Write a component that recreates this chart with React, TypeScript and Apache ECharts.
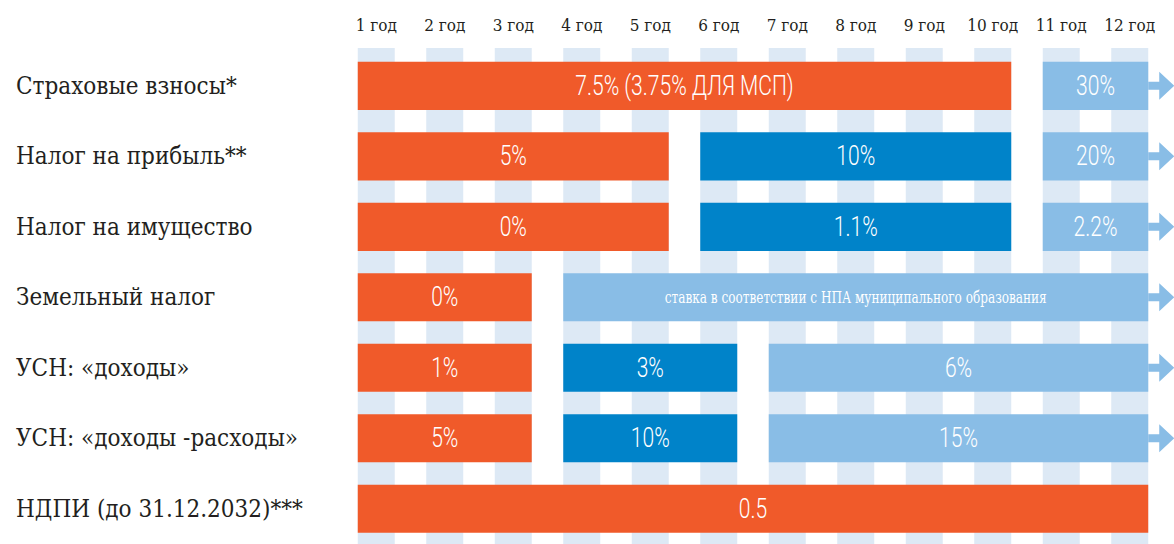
import React, { useEffect, useRef } from "react";
import * as echarts from "echarts";

// ---- Data ----
const years = ["1 год", "2 год", "3 год", "4 год", "5 год", "6 год", "7 год", "8 год", "9 год", "10 год", "11 год", "12 год"];

const taxes = [
  "Страховые взносы*",
  "Налог на прибыль**",
  "Налог на имущество",
  "Земельный налог",
  "УСН: «доходы»",
  "УСН: «доходы -расходы»",
  "НДПИ (до 31.12.2032)***",
];

type Stage = "reduced" | "interim" | "standard";
type Seg = { from: number; to: number; label: string; stage: Stage; continues?: boolean };

const insurance: Seg[] = [
  { from: 1, to: 10, label: "7.5% (3.75% ДЛЯ МСП)", stage: "reduced" },
  { from: 11, to: 12, label: "30%", stage: "standard", continues: true },
];
const profit: Seg[] = [
  { from: 1, to: 5, label: "5%", stage: "reduced" },
  { from: 6, to: 10, label: "10%", stage: "interim" },
  { from: 11, to: 12, label: "20%", stage: "standard", continues: true },
];
const property: Seg[] = [
  { from: 1, to: 5, label: "0%", stage: "reduced" },
  { from: 6, to: 10, label: "1.1%", stage: "interim" },
  { from: 11, to: 12, label: "2.2%", stage: "standard", continues: true },
];
const land: Seg[] = [
  { from: 1, to: 3, label: "0%", stage: "reduced" },
  { from: 4, to: 12, label: "ставка в соответствии с НПА муниципального образования", stage: "standard", continues: true },
];
const usnIncome: Seg[] = [
  { from: 1, to: 3, label: "1%", stage: "reduced" },
  { from: 4, to: 6, label: "3%", stage: "interim" },
  { from: 7, to: 12, label: "6%", stage: "standard", continues: true },
];
const usnIncomeExpense: Seg[] = [
  { from: 1, to: 3, label: "5%", stage: "reduced" },
  { from: 4, to: 6, label: "10%", stage: "interim" },
  { from: 7, to: 12, label: "15%", stage: "standard", continues: true },
];
const mineral: Seg[] = [{ from: 1, to: 12, label: "0.5", stage: "reduced" }];

const rowsData: Seg[][] = [insurance, profit, property, land, usnIncome, usnIncomeExpense, mineral];

// ---- Styles ----
const stageColor: Record<Stage, string> = {
  reduced: "#F05A2A",
  interim: "#0083C9",
  standard: "#89BDE6",
};
const STRIPE = "#DDE9F5";
const SERIF = "'DejaVu Serif Condensed', 'DejaVu Serif', serif";
const LIGHT = "Roboto, 'DejaVu Sans Condensed', sans-serif";

export default function App() {
  const ref = useRef<HTMLDivElement>(null);

  useEffect(() => {
    if (!ref.current) return;
    const chart = echarts.init(ref.current, undefined, { renderer: "svg" });

    const segments = rowsData.flatMap((segs, r) => segs.map((s) => ({ ...s, row: r })));

    const option: any = {
      animation: false,
      grid: { left: 342, top: 50.6, width: 822, height: 502.4, containLabel: false },
      xAxis: {
        type: "category",
        position: "top",
        data: years,
        boundaryGap: true,
        axisLine: { show: false },
        axisTick: { show: false },
        splitLine: { show: false },
        axisLabel: {
          margin: 26,
          verticalAlign: "middle",
          fontSize: 17,
          fontFamily: SERIF,
          color: "#231F20",
        },
      },
      yAxis: {
        type: "category",
        data: taxes,
        inverse: true,
        axisLine: { show: false },
        axisTick: { show: false },
        splitLine: { show: false },
        axisLabel: {
          align: "left",
          margin: 326,
          fontSize: 24,
          fontFamily: SERIF,
          color: "#231F20",
        },
      },
      series: [
        {
          type: "custom",
          name: "stripes",
          clip: false,
          silent: true,
          encode: { x: 0 },
          data: years.map((_, i) => [i]),
          renderItem: (params: any, api: any) => {
            const top = api.coord([api.value(0), 0]);
            const bottom = api.coord([api.value(0), taxes.length - 1]);
            const size = api.size([1, 1]);
            const w = size[0] * 0.54;
            const y0 = top[1] - size[1] * 0.536;
            const y1 = bottom[1] + size[1];
            return {
              type: "rect",
              shape: { x: top[0] - w / 2, y: y0, width: w, height: y1 - y0 },
              style: { fill: STRIPE },
            };
          },
        },
        {
          type: "custom",
          name: "periods",
          clip: false,
          encode: { x: [0, 1], y: 2 },
          data: segments.map((s) => [s.from - 1, s.to - 1, s.row]),
          renderItem: (params: any, api: any) => {
            const s = segments[params.dataIndex];
            const a = api.coord([api.value(0), api.value(2)]);
            const b = api.coord([api.value(1), api.value(2)]);
            const size = api.size([1, 1]);
            const half = size[0] * 0.27;
            const h = size[1] * 0.683;
            const x0 = a[0] - half;
            const x1 = b[0] + half;
            const yc = a[1];
            const fill = stageColor[s.stage];
            const small = s.label.length > 25;
            const children: any[] = [
              {
                type: "rect",
                shape: { x: x0, y: yc - h / 2, width: x1 - x0, height: h },
                style: { fill },
              },
              {
                type: "text",
                x: (x0 + x1) / 2,
                y: yc,
                scaleX: small ? 0.84 : 0.78,
                style: {
                  text: s.label,
                  fill: "#FFFFFF",
                  fontSize: small ? 16 : 27,
                  fontWeight: small ? "normal" : 300,
                  fontFamily: small ? SERIF : LIGHT,
                  align: "center",
                  verticalAlign: "middle",
                },
              },
            ];
            if (s.continues) {
              const sh = 4;
              const hh = 14;
              children.push({
                type: "polygon",
                shape: {
                  points: [
                    [x1, yc - sh],
                    [x1 + 11, yc - sh],
                    [x1 + 11, yc - hh],
                    [x1 + 26, yc],
                    [x1 + 11, yc + hh],
                    [x1 + 11, yc + sh],
                    [x1, yc + sh],
                  ],
                },
                style: { fill },
              });
            }
            return { type: "group", children };
          },
        },
      ],
    };

    chart.setOption(option);
    return () => chart.dispose();
  }, []);

  return (
    <div
      ref={ref}
      style={{ position: "absolute", left: 0, top: 0, width: 1174, height: 544, background: "#fff" }}
    />
  );
}
